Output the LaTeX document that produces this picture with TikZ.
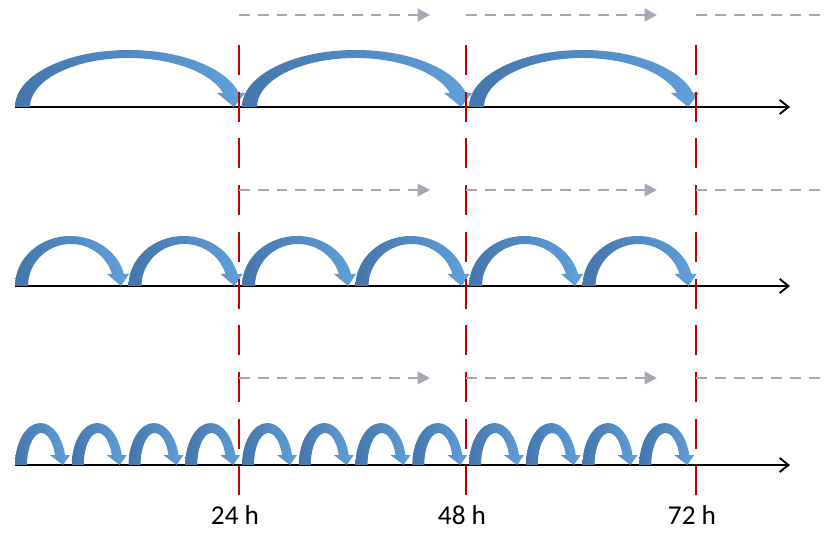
\documentclass[tikz,border=0pt]{standalone}
\usepackage{fontspec}
\setmainfont{Carlito}
\usetikzlibrary{arrows.meta}
\definecolor{hopdark}{RGB}{68,118,172}
\definecolor{hoplight}{RGB}{96,160,218}
\definecolor{markred}{RGB}{192,0,0}
\definecolor{shiftgray}{RGB}{165,168,178}

% curved jump: x0, y0, span, height, foot, top band, half shaft, half head, head length
\newcommand{\hop}[9]{%
  \pgfmathsetmacro{\phio}{asin(#9/#4)}%
  \pgfmathsetmacro{\phii}{asin(#9/(#4-#6))}%
  \pgfmathsetmacro{\rxo}{(#3-3+#7)/(1+cos(\phio))}%
  \pgfmathsetmacro{\rxi}{(#3-3-#7-#5)/(1+cos(\phii))}%
  \shade[left color=hopdark, right color=hoplight]
    (#1,#2) arc[start angle=180, end angle=\phio, x radius=\rxo, y radius=#4]
    -- (#1+#3-3+#8,#2+#9) -- (#1+#3,#2) -- (#1+#3-3-#8,#2+#9) -- (#1+#3-3-#7,#2+#9)
    arc[start angle=\phii, end angle=180, x radius=\rxi, y radius=#4-#6] -- cycle;
}

\begin{document}
\begin{tikzpicture}[x=0.02cm,y=0.02cm]
  \tikzset{timeaxis/.style = {line width=1.1pt,-{Straight Barb[length=5pt,width=8pt]}}}
  \tikzset{hourline/.style = {markred,line width=1.4pt,dash pattern=on 17pt off 9.6pt}}
  \tikzset{shiftline/.style = {shiftgray,line width=1.6pt,dash pattern=on 6.2pt off 4.5pt}}
  \tikzset{shifthead/.style = {-{Triangle[length=7pt,width=7pt]}}}
  \tikzset{hourlabel/.style = {font=\fontsize{15.5}{18}\selectfont,inner sep=0pt}}
  \useasboundingbox (0,0) rectangle (827,554);

  % time axes
  \foreach \y in {447,268,89} {
    \coordinate (ax\y) at (15,\y);
    \coordinate (tip\y) at (790,\y);
    \draw[timeaxis] (ax\y) -- (tip\y);
  }

  % jumps: 3, 6 and 12 per 72 h
  \foreach \k in {0,1,2} {
    \pgfmathsetmacro{\xs}{15+227*\k}
    \hop{\xs}{447}{219}{57}{15}{8}{8}{14}{14}
  }
  \foreach \k in {0,...,5} {
    \pgfmathsetmacro{\xs}{15+113.5*\k}
    \hop{\xs}{268}{106}{50}{13}{8}{6}{11}{12}
  }
  \foreach \k in {0,...,11} {
    \pgfmathsetmacro{\xs}{15+56.75*\k}
    \hop{\xs}{89}{48}{42}{12}{10}{5}{10}{10}
  }

  % 24 h marks
  \foreach \h/\x in {24/239,48/466,72/696} {
    \coordinate (top\h) at (\x,509);
    \coordinate (bot\h) at (\x,57);
    \draw[hourline] (top\h) -- (bot\h);
    \node[hourlabel] (lab\h) at (\x-4,39) {\h\ h};
  }

  % shifts
  \foreach \y in {539,364,176} {
    \coordinate (sa\y) at (239,\y);
    \coordinate (ea\y) at (430,\y);
    \coordinate (sb\y) at (466,\y);
    \coordinate (eb\y) at (657,\y);
    \coordinate (sc\y) at (696,\y);
    \coordinate (ec\y) at (822,\y);
    \draw[shiftline,shifthead] (sa\y) -- (ea\y);
    \draw[shiftline,shifthead] (sb\y) -- (eb\y);
    \draw[shiftline] (sc\y) -- (ec\y);
  }
\end{tikzpicture}
\end{document}
